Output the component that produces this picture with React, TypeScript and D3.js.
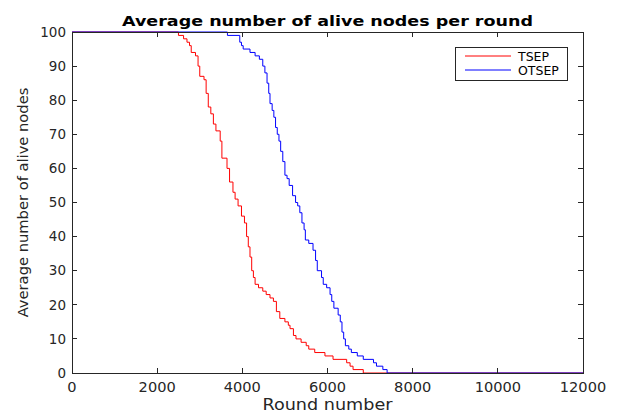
import * as React from "react";
import * as d3 from "d3";

// step data: [round, alive nodes]
const tsepRounds = [0, 2500, 2620, 2700, 2760, 2800, 2900, 2960, 3000, 3100, 3150, 3200, 3260, 3320, 3380, 3480, 3520, 3640, 3700, 3780, 3830, 3900, 3980, 4050, 4100, 4140, 4180, 4220, 4260, 4300, 4380, 4480, 4560, 4650, 4730, 4800, 4880, 5000, 5080, 5120, 5200, 5260, 5380, 5500, 5560, 5700, 5940, 6130, 6450, 6530, 6600, 6840, 12000];
const tsepAlive = [100, 99, 98, 97, 96, 94, 93, 90, 87, 86, 82, 78, 76, 73, 71, 68, 63, 60, 56, 53, 51, 49, 46, 44, 40, 37, 34, 30, 28, 26, 25, 24, 23, 22, 21, 18, 16, 15, 14, 13, 11, 10, 9, 8, 7, 6, 5, 4, 3, 2, 1, 0, 0];

const otsepRounds = [0, 3650, 3940, 3980, 4020, 4180, 4300, 4400, 4480, 4530, 4580, 4620, 4650, 4700, 4740, 4780, 4820, 4860, 4900, 4950, 5000, 5050, 5100, 5180, 5250, 5300, 5350, 5400, 5450, 5480, 5560, 5660, 5720, 5760, 5860, 5900, 5980, 6060, 6100, 6150, 6250, 6300, 6340, 6380, 6420, 6500, 6560, 6700, 6840, 7080, 7150, 7300, 7400, 12000];
const otsepAlive = [100, 99, 97, 96, 95, 94, 93, 92, 90, 88, 85, 82, 79, 77, 75, 72, 70, 68, 65, 62, 58, 57, 55, 52, 50, 49, 47, 44, 42, 39, 38, 36, 33, 30, 28, 26, 25, 23, 21, 19, 17, 15, 12, 10, 8, 7, 6, 5, 4, 3, 2, 1, 0, 0];

const xTicks = [0, 2000, 4000, 6000, 8000, 10000, 12000];
const yTicks = [0, 10, 20, 30, 40, 50, 60, 70, 80, 90, 100];

const seriesNames = ["TSEP", "OTSEP"];
const seriesColors = ["#ff0000", "#0000ff"];

const W = 619;
const H = 414;
const margin = { left: 72, top: 32, right: 36, bottom: 41 };
const axisColor = "#262626";
const font = "'DejaVu Sans', sans-serif";

export default function App() {
  const iw = W - margin.left - margin.right;
  const ih = H - margin.top - margin.bottom;

  const x = d3.scaleLinear().domain([0, 12000]).range([0, iw]);
  const y = d3.scaleLinear().domain([0, 100]).range([ih, 0]);

  const line = d3
    .line<[number, number]>()
    .x((d) => x(d[0]))
    .y((d) => y(d[1]))
    .curve(d3.curveStepAfter);

  const series = [
    tsepRounds.map((r, i) => [r, tsepAlive[i]] as [number, number]),
    otsepRounds.map((r, i) => [r, otsepAlive[i]] as [number, number]),
  ];

  const tl = 5;

  return (
    <svg
      width={W}
      height={H}
      style={{ position: "absolute", left: 0, top: 0, background: "#fff" }}
      fontFamily={font}
    >
      <rect width={W} height={H} fill="#fff" />
      <text
        x={margin.left + iw / 2}
        y={25.5}
        textAnchor="middle"
        fontSize={14}
        fontWeight="bold"
        fill="#000"
        textLength={411}
        lengthAdjust="spacingAndGlyphs"
      >
        Average number of alive nodes per round
      </text>
      <g transform={`translate(${margin.left}, ${margin.top})`}>
        <clipPath id="plot">
          <rect x={0} y={-1} width={iw} height={ih + 2} />
        </clipPath>
        <g clipPath="url(#plot)">
          {series.map((s, i) => (
            <path key={i} d={line(s) || ""} fill="none" stroke={seriesColors[i]} strokeWidth={1} />
          ))}
        </g>
        <rect x={0} y={0} width={iw} height={ih} fill="none" stroke={axisColor} strokeWidth={1} shapeRendering="crispEdges" />
        {xTicks.map((d) => (
          <g key={"x" + d} transform={`translate(${x(d)}, 0)`}>
            <line y1={ih} y2={ih - tl} stroke={axisColor} shapeRendering="crispEdges" />
            <line y1={0} y2={tl} stroke={axisColor} shapeRendering="crispEdges" />
            <text y={ih + 19} textAnchor="middle" fontSize={13.5} fill={axisColor} transform="scale(1.08,1)">
              {d}
            </text>
          </g>
        ))}
        {yTicks.map((d) => (
          <g key={"y" + d} transform={`translate(0, ${y(d)})`}>
            <line x1={0} x2={tl} stroke={axisColor} shapeRendering="crispEdges" />
            <line x1={iw} x2={iw - tl} stroke={axisColor} shapeRendering="crispEdges" />
            <text x={-6} dy="0.35em" textAnchor="end" fontSize={13.5} fill={axisColor}>
              {d}
            </text>
          </g>
        ))}
        <text
          x={iw / 2}
          y={ih + 37}
          textAnchor="middle"
          fontSize={15}
          fill={axisColor}
          textLength={130}
          lengthAdjust="spacingAndGlyphs"
        >
          Round number
        </text>
        <text
          transform={`translate(-44, ${ih / 2}) rotate(-90)`}
          textAnchor="middle"
          fontSize={14.7}
          fill={axisColor}
        >
          Average number of alive nodes
        </text>
        <g transform={`translate(${iw - 128}, 15)`}>
          <rect width={112} height={33} fill="#fff" stroke={axisColor} strokeWidth={1} shapeRendering="crispEdges" />
          {seriesNames.map((n, i) => (
            <g key={n} transform={`translate(0, ${9 + i * 14})`}>
              <line x1={10} x2={56} stroke={seriesColors[i]} strokeWidth={1} />
              <text x={63} dy="0.38em" fontSize={12.5} fill="#000">
                {n}
              </text>
            </g>
          ))}
        </g>
      </g>
    </svg>
  );
}
